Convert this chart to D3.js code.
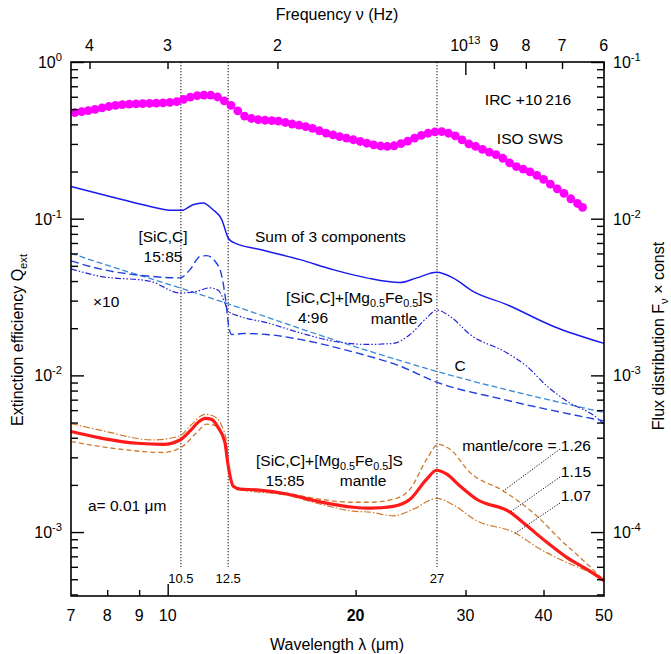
<!DOCTYPE html>
<html>
<head>
<meta charset="utf-8">
<script src="https://cdn.jsdelivr.net/npm/d3@7"></script>
<style>
  body { margin: 0; background: #fff; }
  svg text { font-family: "Liberation Sans", Arial, Helvetica, sans-serif; fill: #000; }
</style>
</head>
<body>
<div id="chart"></div>
<script>
// Extinction efficiency of SiC/C grains vs. ISO SWS spectrum of IRC +10 216
// x: wavelength (um), y: Q_ext (left) / flux (right)

// ISO SWS spectrum (dots)
var isoLam = [7.10, 7.28, 7.46, 7.65, 7.85, 8.05, 8.25, 8.46, 8.68, 8.90, 9.12, 9.35, 9.59, 9.83, 10.08, 10.34, 10.60, 10.87, 11.15, 11.43,
  11.72, 12.02, 12.32, 12.63, 12.95, 13.28, 13.62, 13.96, 14.32, 14.68, 15.05, 15.44, 15.83, 16.23, 16.64, 17.06, 17.50, 17.94, 18.40, 18.86,
  19.34, 19.83, 20.34, 20.85, 21.38, 21.93, 22.48, 23.05, 23.64, 24.24, 24.86, 25.49, 26.13, 26.80, 27.48, 28.17, 28.89, 29.62, 30.37, 31.14,
  31.93, 32.74, 33.58, 34.43, 35.30, 36.20, 37.12, 38.06, 39.03, 40.02, 41.03, 42.08, 43.14, 44.24, 45.36, 46.20];
var isoQ = [0.475, 0.482, 0.489, 0.499, 0.510, 0.520, 0.529, 0.535, 0.539, 0.540, 0.542, 0.544, 0.546, 0.549, 0.552, 0.558, 0.578, 0.596, 0.610, 0.615,
  0.615, 0.598, 0.565, 0.528, 0.488, 0.452, 0.436, 0.429, 0.425, 0.423, 0.419, 0.411, 0.402, 0.395, 0.387, 0.377, 0.364, 0.352, 0.343, 0.334,
  0.327, 0.319, 0.311, 0.303, 0.296, 0.291, 0.289, 0.292, 0.301, 0.313, 0.327, 0.340, 0.351, 0.358, 0.359, 0.351, 0.338, 0.318, 0.300, 0.289,
  0.277, 0.266, 0.256, 0.243, 0.227, 0.215, 0.207, 0.199, 0.189, 0.178, 0.166, 0.155, 0.145, 0.134, 0.125, 0.118];

// Sum of 3 components
var sumLam = [7.0, 8.08, 9.13, 10.20, 10.53, 10.98, 11.39, 11.82, 12.21, 12.50, 12.74, 14.06, 16.29, 18.40, 20.83, 23.56, 25.06, 26.97, 28.64, 30.84, 34.92, 41.43, 50];
var sumQ = [0.1606, 0.1387, 0.1228, 0.1130, 0.1130, 0.1228, 0.1259, 0.1141, 0.0985, 0.0753, 0.0706, 0.0635, 0.0548, 0.0473, 0.0419, 0.0391, 0.0419, 0.0455, 0.0419, 0.0344, 0.0283, 0.0206, 0.0160];

// [SiC,C] 15:85 (x10)
var sicLam = [7, 7.79, 9.37, 10.46, 10.86, 11.27, 11.55, 11.91, 12.21, 12.40, 12.50, 12.66, 13.22, 14.41, 16.29, 19.59, 23.56, 26.97, 34.45, 50];
var sicQ = [0.0538, 0.0478, 0.0429, 0.0419, 0.0473, 0.0575, 0.0581, 0.0535, 0.0429, 0.0290, 0.0217, 0.01825, 0.0185, 0.01825, 0.01696, 0.01428, 0.01146, 0.00906, 0.00703, 0.00512];

// [SiC,C]+[Mg0.5Fe0.5]S 4:96 mantle
var mantLam = [7, 7.79, 9.37, 10.46, 11.13, 11.69, 12.05, 12.35, 12.50, 13.06, 14.41, 16.29, 18.40, 20.83, 22.98, 24.45, 26.0, 26.97, 28.33, 30.50, 34.92, 37.59, 40.5, 43.57, 48.9, 50];
var mantQ = [0.0478, 0.0429, 0.0399, 0.0336, 0.0344, 0.0362, 0.0349, 0.0290, 0.0257, 0.0238, 0.0217, 0.0187, 0.01654, 0.01576, 0.0160, 0.01825, 0.0233, 0.0261, 0.0238, 0.01825, 0.01395, 0.01146, 0.00855, 0.00686, 0.0053, 0.00488];

// C
var cLam = [7, 7.79, 10.98, 12.43, 20.33, 27.0, 50];
var cQ = [0.0601, 0.0522, 0.0340, 0.0288, 0.0149, 0.0106, 0.0058];

// core-mantle grains, a = 0.01 um, mantle/core = 1.15 (red), 1.26, 1.07
var redLam = [7, 7.89, 8.92, 9.84, 10.46, 10.86, 11.20, 11.48, 11.76, 12.05, 12.35, 12.50, 12.74, 13.06, 13.89, 15.51, 17.54, 19.83, 21.09, 22.98,
  24.45, 26.0, 26.97, 27.99, 29.39, 31.26, 35.35, 37.59, 40.5, 43.57, 46.9, 50];
var redQ = [0.00438, 0.00395, 0.00369, 0.00363, 0.00387, 0.00442, 0.00504, 0.00532, 0.00524, 0.00464, 0.00373, 0.00265, 0.00196, 0.00188, 0.00186, 0.00175, 0.00156, 0.00144, 0.00142, 0.00146,
  0.00162, 0.00218, 0.00248, 0.00234, 0.00197, 0.00162, 0.00134, 0.00110, 0.00086, 0.00069, 0.00058, 0.00049];
var r126Lam = [7, 8.39, 9.84, 10.59, 11.13, 11.55, 11.98, 12.21, 12.35, 12.50, 12.74, 13.06, 15.51, 17.54, 19.83, 21.09, 22.98, 24.45, 26.0, 27.13, 28.33, 30.50, 34.48, 39.0, 42.51, 46.9, 50];
var r126Q = [0.00378, 0.00338, 0.00322, 0.00355, 0.00432, 0.00488, 0.00475, 0.00421, 0.00369, 0.00263, 0.00196, 0.00189, 0.00177, 0.00162, 0.00155, 0.00155, 0.00162, 0.00188, 0.00292, 0.00363, 0.00338, 0.00240, 0.00183, 0.00127, 0.00090, 0.00063, 0.00049];
var r107Lam = [7, 7.89, 9.48, 10.46, 10.86, 11.48, 11.83, 12.21, 12.43, 12.50, 12.74, 13.06, 15.51, 17.54, 19.83, 21.09, 22.98, 24.75, 26.97, 28.68, 31.26, 35.78, 39.48, 43.57, 48.06, 50];
var r107Q = [0.00493, 0.00442, 0.00387, 0.00411, 0.00475, 0.00564, 0.00551, 0.00475, 0.00373, 0.00265, 0.00195, 0.00187, 0.00172, 0.00151, 0.00136, 0.00134, 0.00127, 0.00140, 0.00164, 0.00149, 0.00118, 0.00100, 0.00078, 0.00064, 0.00054, 0.00049];

// marked wavelengths and ticks
var markLam = [10.5, 12.5, 27];
var waveTicks = [7, 8, 9, 10, 20, 30, 40, 50];
var freqTicks = [4e13, 3e13, 2e13, 1e13, 9e12, 8e12, 7e12, 6e12];
var freqLabels = ["4", "3", "2", "10|13", "9", "8", "7", "6"];
var leftDecades = [-3, -2, -1, 0];
var rightDecades = [-4, -3, -2, -1];
// where the mantle/core leader lines meet the curves
var leaderLam = [34.48, 35.35, 36.0];
var leaderQ = [0.00183, 0.00134, 0.00098];

var LIGHT_C = 2.998e14; // um * Hz

var margin = { top: 62, right: 67, bottom: 58, left: 71 },
    width = 671 - margin.left - margin.right,
    height = 654 - margin.top - margin.bottom;

var x = d3.scaleLog().domain([7, 50]).range([0, width]);
var y = d3.scaleLog().domain([Math.pow(10, -3.408), 1]).range([height, 0]);
var yR = d3.scaleLog().domain([Math.pow(10, -4.408), 0.1]).range([height, 0]);
var xTop = d3.scaleLog().domain([LIGHT_C / 7, LIGHT_C / 50]).range([0, width]);

var svg = d3.select("#chart").append("svg")
    .attr("width", width + margin.left + margin.right)
    .attr("height", height + margin.top + margin.bottom);
var g = svg.append("g")
    .attr("transform", "translate(" + margin.left + "," + margin.top + ")");

// text with sub/superscripts: parts are strings or [string, "sub"|"sup"]
function richText(sel, px, py, parts, anchor, size) {
    var t = sel.append("text").attr("x", px).attr("y", py)
        .attr("text-anchor", anchor || "start")
        .attr("font-size", size || 15.5);
    var shift = 0;
    parts.forEach(function (p) {
        var str = Array.isArray(p) ? p[0] : p;
        var kind = Array.isArray(p) ? p[1] : "n";
        var target = kind === "sub" ? 4 : (kind === "sup" ? -7 : 0);
        var ts = t.append("tspan").attr("dy", target - shift).text(str);
        if (kind !== "n") ts.attr("font-size", "0.7em");
        shift = target;
    });
    return t;
}

// vertical dotted lines
g.selectAll(".mark").data(markLam).enter().append("line")
    .attr("x1", function (d) { return x(d); })
    .attr("x2", function (d) { return x(d); })
    .attr("y1", 0).attr("y2", height - 29)
    .attr("stroke", "#111").attr("stroke-width", 1)
    .attr("stroke-dasharray", "1.3,1.7");
g.selectAll(".markLab").data(markLam).enter().append("text")
    .attr("x", function (d) { return x(d); })
    .attr("y", height - 13)
    .attr("text-anchor", "middle").attr("font-size", 13)
    .text(function (d) { return d; });

// curves
var line = d3.line()
    .x(function (d) { return x(d[0]); })
    .y(function (d) { return y(d[1]); })
    .curve(d3.curveMonotoneX);

function pairs(a, b) { return a.map(function (v, i) { return [v, b[i]]; }); }

function drawCurve(data, color, w, dash) {
    g.append("path")
        .datum(data)
        .attr("d", line)
        .attr("fill", "none")
        .attr("stroke", color)
        .attr("stroke-width", w)
        .attr("stroke-dasharray", dash || null)
        .attr("stroke-linejoin", "round");
}

drawCurve(pairs(cLam, cQ), "#3b8ad6", 1.3, "6,3");
drawCurve(pairs(sicLam, sicQ), "#1f3fe0", 1.4, "8,4");
drawCurve(pairs(mantLam, mantQ), "#2424d8", 1.2, "6,2,1.5,2,1.5,2");
drawCurve(pairs(sumLam, sumQ), "#1a1aee", 1.5);
drawCurve(pairs(r126Lam, r126Q), "#cf7a2c", 1.3, "5,3");
drawCurve(pairs(r107Lam, r107Q), "#cf7a2c", 1.2, "7,2,1.5,2");
drawCurve(pairs(redLam, redQ), "#ff1a1a", 3.2);

// ISO SWS dots
g.selectAll(".iso").data(pairs(isoLam, isoQ)).enter().append("circle")
    .attr("cx", function (d) { return x(d[0]); })
    .attr("cy", function (d) { return y(d[1]); })
    .attr("r", 4.4)
    .attr("fill", "#ff00ff");

// leader lines for mantle/core labels
var leaderStart = [[489, 387], [489, 415], [489, 441]];
g.selectAll(".leader").data(leaderLam).enter().append("line")
    .attr("x1", function (d, i) { return leaderStart[i][0]; })
    .attr("y1", function (d, i) { return leaderStart[i][1]; })
    .attr("x2", function (d) { return x(d); })
    .attr("y2", function (d, i) { return y(leaderQ[i]); })
    .attr("stroke", "#111").attr("stroke-width", 1)
    .attr("stroke-dasharray", "1.2,1.6");

// axes: bottom
g.append("g").attr("transform", "translate(0," + height + ")")
    .call(d3.axisBottom(x).tickValues([8, 9, 20, 30, 40]).tickSize(-6).tickFormat(""));
g.append("g").attr("transform", "translate(0," + height + ")")
    .call(d3.axisBottom(x).tickValues([10]).tickSize(-12).tickFormat(""));
g.selectAll(".wlab").data(waveTicks).enter().append("text")
    .attr("x", function (d) { return x(d); })
    .attr("y", height + 25)
    .attr("text-anchor", "middle").attr("font-size", 16)
    .attr("font-weight", function (d) { return d === 20 ? "bold" : null; })
    .text(function (d) { return d; });

// top frequency axis
g.append("g")
    .call(d3.axisTop(xTop).tickValues(freqTicks.filter(function (d) { return d !== 1e13; })).tickSize(-7).tickFormat(""));
g.append("g")
    .call(d3.axisTop(xTop).tickValues([1e13]).tickSize(-13).tickFormat(""));
freqTicks.forEach(function (f, i) {
    var parts = freqLabels[i].split("|");
    var p = parts.length > 1 ? [parts[0], [parts[1], "sup"]] : [parts[0]];
    richText(g, xTop(f), -11, p, "middle", 16);
});

// left axis (Q_ext)
function minorTicks(decades) {
    var out = [];
    decades.forEach(function (e) {
        for (var k = 2; k <= 9; k++) out.push(k * Math.pow(10, e));
    });
    return out;
}
g.append("g")
    .call(d3.axisLeft(y).tickValues(minorTicks([-4, -3, -2, -1]).filter(function (d) { return d >= y.domain()[0]; }))
        .tickSize(-7).tickFormat(""));
g.append("g")
    .call(d3.axisLeft(y).tickValues(leftDecades.map(function (e) { return Math.pow(10, e); })).tickSize(-13).tickFormat(""));
leftDecades.forEach(function (e) {
    richText(g, -9, y(Math.pow(10, e)) + 6, ["10", [String(e), "sup"]], "end", 16);
});

// right axis (flux)
g.append("g").attr("transform", "translate(" + width + ",0)")
    .call(d3.axisRight(yR).tickValues(minorTicks([-5, -4, -3, -2]).filter(function (d) { return d >= yR.domain()[0] && d <= 0.1; }))
        .tickSize(-7).tickFormat(""));
g.append("g").attr("transform", "translate(" + width + ",0)")
    .call(d3.axisRight(yR).tickValues(rightDecades.map(function (e) { return Math.pow(10, e); })).tickSize(-13).tickFormat(""));
rightDecades.forEach(function (e) {
    richText(g, width + 9, yR(Math.pow(10, e)) + 6, ["10", [String(e), "sup"]], "start", 16);
});

// frame and axis styling
g.append("rect").attr("width", width).attr("height", height)
    .attr("fill", "none").attr("stroke", "#000").attr("stroke-width", 1.6);
g.selectAll(".domain").remove();
g.selectAll(".tick line").attr("stroke", "#000").attr("stroke-width", 1.4);

// axis titles
richText(svg, 337, 20, ["Frequency  \u03bd (Hz)"], "middle", 16);
richText(svg, 337, 650, ["Wavelength  \u03bb (\u03bcm)"], "middle", 16);
richText(svg.append("g").attr("transform", "translate(23,340) rotate(-90)"), 0, 0,
    ["Extinction efficiency  Q", ["ext", "sub"]], "middle", 16);
richText(svg.append("g").attr("transform", "translate(664,336) rotate(-90)"), 0, 0,
    ["Flux distribution  F", ["\u03bd", "sub"], " \u00d7 const"], "middle", 16);

// annotations
richText(g, 457, 43, ["IRC +10\u2009216"], "middle");
richText(g, 459, 82, ["ISO SWS"], "middle");
richText(g, 92, 180, ["[SiC,C]"], "middle");
richText(g, 92, 200, ["15:85"], "middle");
richText(g, 184, 180, ["Sum of 3 components"], "start");
richText(g, 22, 245, ["\u00d710"], "start");
richText(g, 215, 241, ["[SiC,C]+[Mg", ["0.5", "sub"], "Fe", ["0.5", "sub"], "]S"], "start");
richText(g, 242, 261, ["4:96"], "middle");
richText(g, 323, 262, ["mantle"], "middle");
richText(g, 389, 309, ["C"], "middle");
richText(g, 185, 404, ["[SiC,C]+[Mg", ["0.5", "sub"], "Fe", ["0.5", "sub"], "]S"], "start");
richText(g, 214, 424, ["15:85"], "middle");
richText(g, 292, 424, ["mantle"], "middle");
richText(g, 17, 449, ["a= 0.01 \u03bcm"], "start");
richText(g, 520, 389, ["mantle/core = 1.26"], "end");
richText(g, 520, 415, ["1.15"], "end");
richText(g, 520, 439, ["1.07"], "end");
</script>
</body>
</html>
